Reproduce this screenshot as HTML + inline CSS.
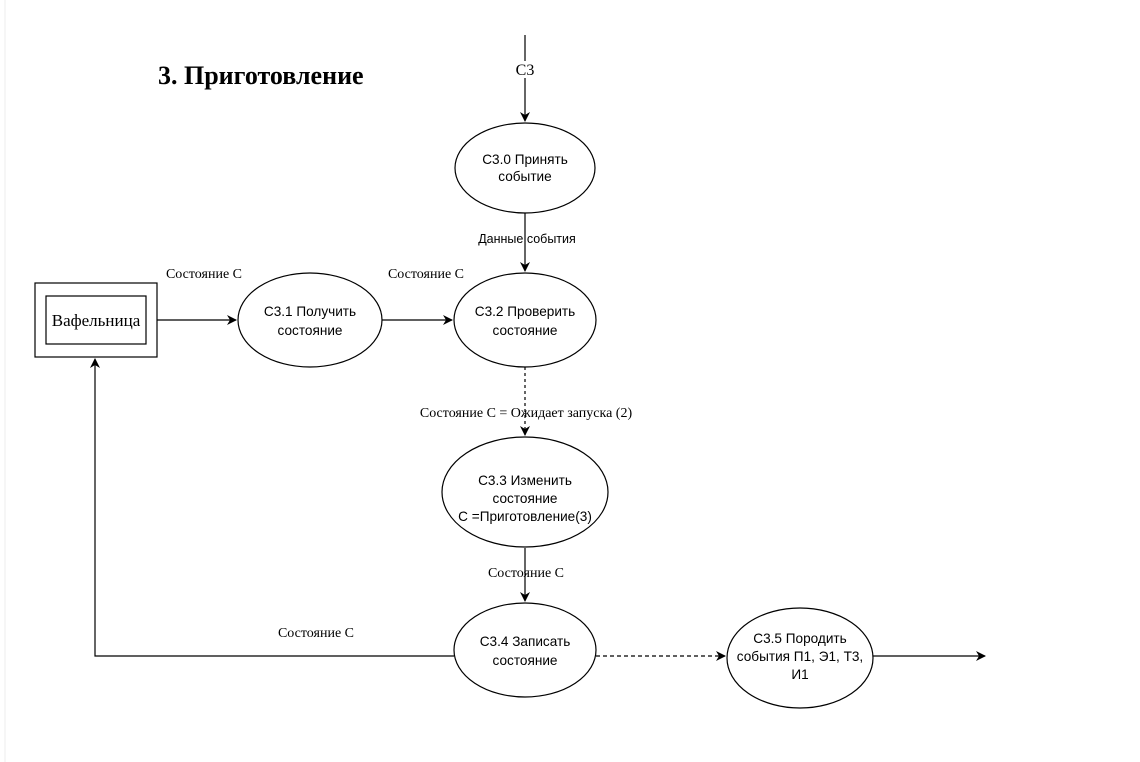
<!DOCTYPE html>
<html><head><meta charset="utf-8"><style>
html,body{margin:0;padding:0;background:#fff;}
svg{display:block;}
.s{font-family:"Liberation Sans",sans-serif;font-size:13.6px;}
.t{font-family:"Liberation Serif",serif;font-size:14px;}
</style></head><body>
<svg width="1140" height="762" viewBox="0 0 1140 762" xmlns="http://www.w3.org/2000/svg">
<defs><marker id="a" markerWidth="10" markerHeight="10" refX="9" refY="5" orient="auto" markerUnits="userSpaceOnUse"><path d="M0,0 L10,5 L0,10 L3,5 Z" fill="#000"/></marker></defs>
<line x1="5" y1="0" x2="5" y2="762" stroke="#eee" stroke-width="1"/>
<text x="158" y="84" font-family="Liberation Serif,serif" font-size="26" font-weight="bold">3. Приготовление</text>
<g stroke="#000" stroke-width="1.2" fill="none">
<line x1="525" y1="35" x2="525" y2="121" marker-end="url(#a)"/>
<line x1="525" y1="213" x2="525" y2="271" marker-end="url(#a)"/>
<line x1="157" y1="320" x2="236" y2="320" marker-end="url(#a)"/>
<line x1="382" y1="320" x2="452" y2="320" marker-end="url(#a)"/>
<line x1="525" y1="367" x2="525" y2="435" stroke-dasharray="3,3" marker-end="url(#a)"/>
<line x1="525" y1="548" x2="525" y2="601" marker-end="url(#a)"/>
<polyline points="454,656 95,656 95,359" marker-end="url(#a)"/>
<line x1="596" y1="656" x2="725" y2="656" stroke-dasharray="4,3" marker-end="url(#a)"/>
<line x1="873" y1="656" x2="985" y2="656" marker-end="url(#a)"/>
<rect x="35" y="283" width="122" height="74"/>
<rect x="46" y="296" width="100" height="48"/>
<ellipse cx="525" cy="168" rx="70" ry="45" fill="#fff"/>
<ellipse cx="310" cy="320" rx="72" ry="47" fill="#fff"/>
<ellipse cx="525" cy="320" rx="71" ry="47" fill="#fff"/>
<ellipse cx="525" cy="492" rx="83" ry="55" fill="#fff"/>
<ellipse cx="525" cy="650" rx="71" ry="47" fill="#fff"/>
<ellipse cx="800" cy="658" rx="73" ry="50" fill="#fff"/>
</g>
<g text-anchor="middle">
<rect x="513" y="61" width="24" height="17" fill="#fff"/>
<text x="525" y="75" font-family="Liberation Serif,serif" font-size="16">С3</text>
<text x="96" y="326" font-family="Liberation Serif,serif" font-size="17">Вафельница</text>
<text class="s" x="525" y="164">С3.0 Принять</text><text class="s" x="525" y="181">событие</text>
<text class="s" x="310" y="316">С3.1 Получить</text><text class="s" x="310" y="335">состояние</text>
<text class="s" x="525" y="316">С3.2 Проверить</text><text class="s" x="525" y="335">состояние</text>
<text class="s" x="525" y="485">С3.3 Изменить</text><text class="s" x="525" y="503">состояние</text><text class="s" x="525" y="521">С =Приготовление(3)</text>
<text class="s" x="525" y="646">С3.4 Записать</text><text class="s" x="525" y="665">состояние</text>
<text class="s" x="800" y="643">С3.5 Породить</text><text class="s" x="800" y="661">события П1, Э1, Т3,</text><text class="s" x="800" y="679">И1</text>
<text x="527" y="243" font-family="Liberation Sans,sans-serif" font-size="12.5">Данные события</text>
<text class="t" x="204" y="278">Состояние С</text>
<text class="t" x="426" y="278">Состояние С</text>
<text class="t" x="526" y="417">Состояние С = Ожидает запуска (2)</text>
<text class="t" x="526" y="577">Состояние С</text>
<text class="t" x="316" y="637">Состояние С</text>
</g>
</svg>
</body></html>
